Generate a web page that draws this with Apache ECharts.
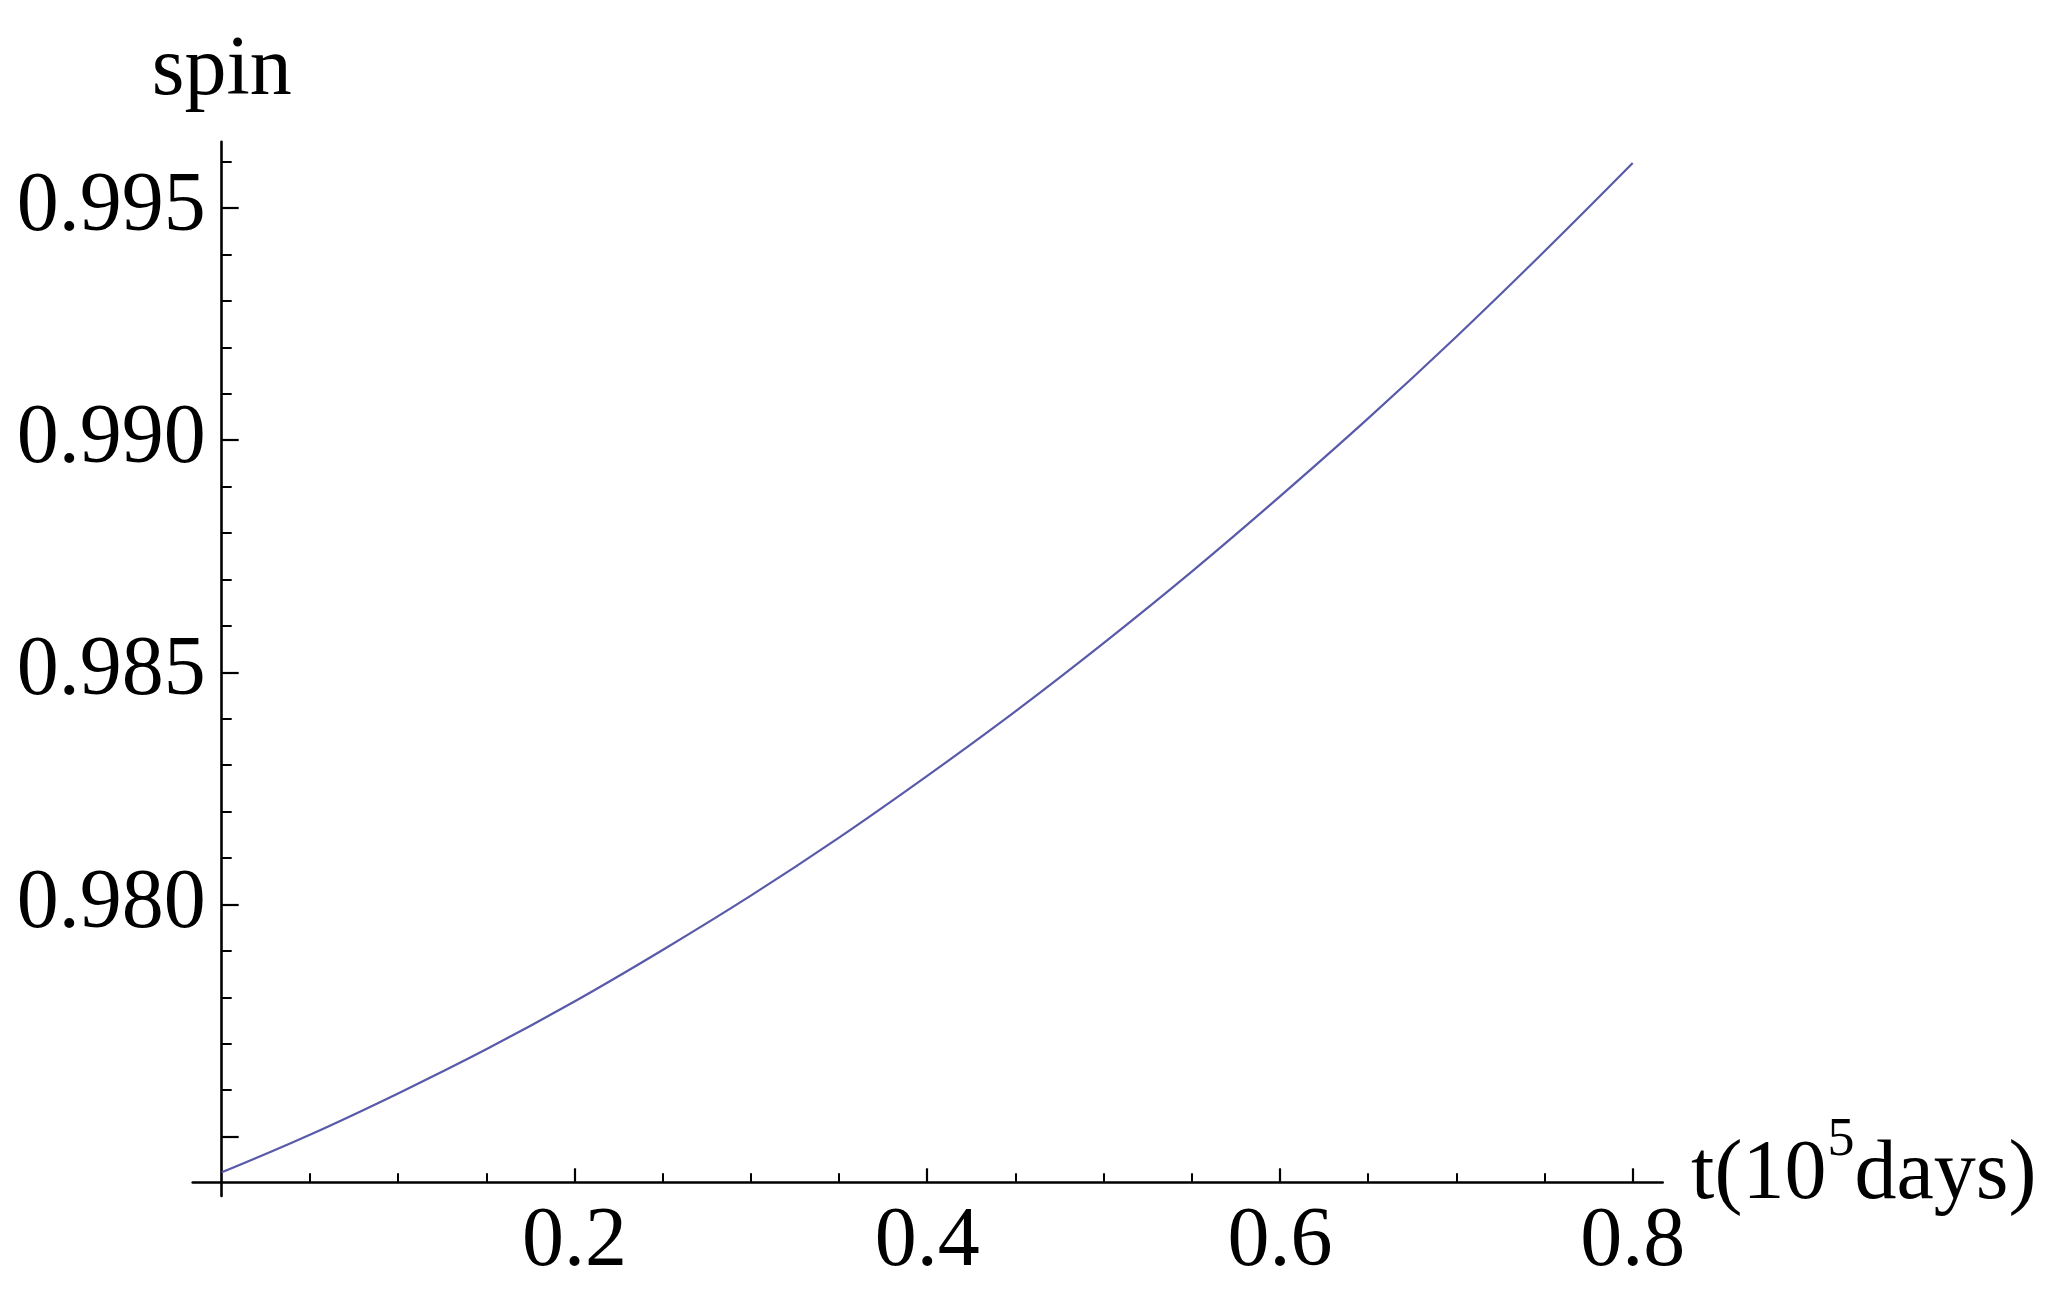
<!DOCTYPE html>
<html>
<head>
<meta charset="utf-8">
<script src="https://cdn.jsdelivr.net/npm/echarts@6/dist/echarts.min.js"></script>
<style>
  html, body { margin: 0; padding: 0; background: #ffffff; }
  #chart { width: 2057px; height: 1300px; }
</style>
</head>
<body>
<div id="chart"></div>
<script>
// ---- data ----
const tValues = [0, 0.05, 0.1, 0.15, 0.2, 0.25, 0.3, 0.35, 0.4, 0.45, 0.5, 0.55, 0.6, 0.65, 0.7, 0.75, 0.8];
const spinValues = [0.97423, 0.97504, 0.97593, 0.97688, 0.97791, 0.97902, 0.98019, 0.98144, 0.98277,
                    0.98416, 0.98563, 0.98717, 0.98879, 0.99047, 0.99223, 0.99407, 0.99597];

const xMajorTicks = [0.2, 0.4, 0.6, 0.8];
const xMinorTicks = [0.05, 0.1, 0.15, 0.25, 0.3, 0.35, 0.45, 0.5, 0.55, 0.65, 0.7, 0.75];
const yMajorTicks = [0.975, 0.98, 0.985, 0.99, 0.995];
const yTickLabels = [0.98, 0.985, 0.99, 0.995];
const yMinorTicks = [0.976, 0.977, 0.978, 0.979, 0.981, 0.982, 0.983, 0.984, 0.986, 0.987, 0.988, 0.989,
                     0.991, 0.992, 0.993, 0.994, 0.996];

const xRange = [0, 0.817];                // data grid x extent
const xAxisLineRange = [-0.01644, 0.817]; // x axis line extends a bit left of the origin
const yRange = [0.97372, 0.99643];        // y axis line extends a bit below the x axis

const FONT = '"Liberation Serif", "Times New Roman", serif';
const FS = 84;

const dataGrid = { left: 221.7, right: 394.3, top: 141.7, bottom: 104 };
const xGrid = { left: 192.7, right: 394.3, top: 141.7, bottom: 117.7 };

const chart = echarts.init(document.getElementById('chart'), null, { renderer: 'canvas' });

const hiddenAxis = (gridIndex, range) => ({
  type: 'value', gridIndex, min: range[0], max: range[1], show: false,
  splitLine: { show: false }
});

const option = {
  backgroundColor: '#ffffff',
  animation: false,
  grid: [dataGrid, dataGrid, xGrid, xGrid].map(g => Object.assign({ containLabel: false }, g)),
  xAxis: [
    hiddenAxis(0, xRange),
    hiddenAxis(1, xRange),
    {
      type: 'value', gridIndex: 2, position: 'bottom',
      min: xAxisLineRange[0], max: xAxisLineRange[1],
      name: 't(10{sup|5}days)', nameLocation: 'end', nameGap: 17,
      nameTextStyle: {
        fontFamily: FONT, fontSize: FS, color: '#000', align: 'left', verticalAlign: 'middle',
        lineHeight: 124,
        padding: [0, 0, 12, 0],
        rich: { sup: { fontFamily: FONT, fontSize: 54, color: '#000', verticalAlign: 'top', padding: [0, 0, 0, 1] } }
      },
      axisLine: { show: true, lineStyle: { color: '#000', width: 2.6 } },
      axisTick: { show: true, inside: true, length: 14, customValues: xMajorTicks, lineStyle: { color: '#000', width: 2.2 } },
      axisLabel: {
        show: true, customValues: xMajorTicks, margin: 19,
        fontFamily: FONT, fontSize: FS, color: '#000',
        formatter: v => Number(v).toFixed(1)
      },
      splitLine: { show: false }
    },
    {
      type: 'value', gridIndex: 3, position: 'bottom',
      min: xAxisLineRange[0], max: xAxisLineRange[1],
      axisLine: { show: false },
      axisTick: { show: true, inside: true, length: 9, customValues: xMinorTicks, lineStyle: { color: '#000', width: 2 } },
      axisLabel: { show: false },
      splitLine: { show: false }
    }
  ],
  yAxis: [
    {
      type: 'value', gridIndex: 0, position: 'left',
      min: yRange[0], max: yRange[1],
      name: 'spin', nameLocation: 'end', nameGap: 28,
      nameTextStyle: { fontFamily: FONT, fontSize: FS, color: '#000', align: 'center' },
      axisLine: { show: true, lineStyle: { color: '#000', width: 2.6 } },
      axisTick: { show: true, inside: true, length: 17, customValues: yMajorTicks, lineStyle: { color: '#000', width: 2.2 } },
      axisLabel: {
        show: true, customValues: yTickLabels, margin: 16,
        fontFamily: FONT, fontSize: FS, color: '#000',
        padding: [0, 0, 8, 0],
        formatter: v => Number(v).toFixed(3)
      },
      splitLine: { show: false }
    },
    {
      type: 'value', gridIndex: 1, position: 'left',
      min: yRange[0], max: yRange[1],
      axisLine: { show: false },
      axisTick: { show: true, inside: true, length: 10, customValues: yMinorTicks, lineStyle: { color: '#000', width: 2 } },
      axisLabel: { show: false },
      splitLine: { show: false }
    },
    hiddenAxis(2, yRange),
    hiddenAxis(3, yRange)
  ],
  series: [
    {
      type: 'line', xAxisIndex: 0, yAxisIndex: 0,
      data: tValues.map((t, i) => [t, spinValues[i]]),
      smooth: 0.4, showSymbol: false, symbol: 'none',
      lineStyle: { color: '#5a5aaa', width: 2.2 },
      z: 5
    }
  ]
};

chart.setOption(option);
</script>
</body>
</html>
